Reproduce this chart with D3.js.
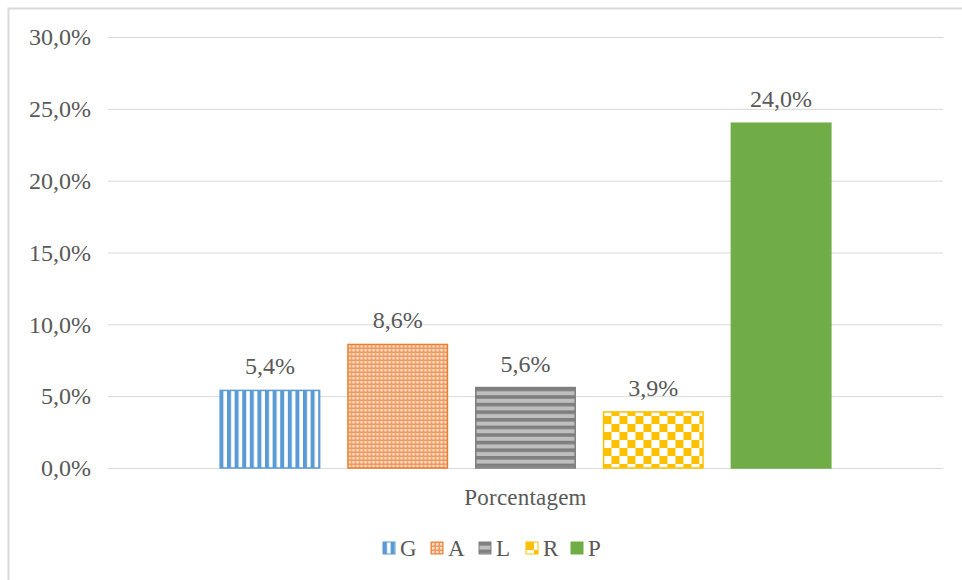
<!DOCTYPE html>
<html>
<head>
<meta charset="utf-8">
<script src="https://cdn.jsdelivr.net/npm/d3@7"></script>
<style>
  body { margin: 0; background: #fff; }
  svg text { font-family: "Liberation Serif", "Times New Roman", serif; fill: #595959; }
</style>
</head>
<body>
<div id="chart"></div>
<script>
// data
const CATEGORY = ["Porcentagem"];
const SERIES = ["G", "A", "L", "R", "P"];
const VALUES = [0.054, 0.086, 0.056, 0.039, 0.240];
const COLORS = ["#5B9BD5", "#ED7D31", "#7F7F7F", "#FFC000", "#70AD47"];
const Y_TICKS = [0, 0.05, 0.10, 0.15, 0.20, 0.25, 0.30];

// layout
const W = 962, H = 580;
const PLOT = {left: 108, right: 943, top: 37, bottom: 468};
const FONT = 23;

const locale = d3.formatLocale({decimal: ",", thousands: ".", grouping: [3], currency: ["", ""]});
const pct = locale.format(".1%");

const svg = d3.select("#chart").append("svg")
    .attr("width", W)
    .attr("height", H);

// fill patterns (Excel style) ------------------------------------------
const defs = svg.append("defs");

// G: wide vertical stripes
const pG = defs.append("pattern").attr("id", "pat-G")
    .attr("patternUnits", "userSpaceOnUse").attr("width", 7.6).attr("height", 8);
pG.append("rect").attr("width", 7.6).attr("height", 8).attr("fill", "#fff");
pG.append("rect").attr("width", 4).attr("height", 8).attr("fill", COLORS[0]);

// A: small grid with white dots
const pA = defs.append("pattern").attr("id", "pat-A")
    .attr("patternUnits", "userSpaceOnUse").attr("width", 4).attr("height", 4);
pA.append("rect").attr("width", 4).attr("height", 4).attr("fill", "#F19A5E");
pA.append("rect").attr("x", 1).attr("y", 1).attr("width", 2.4).attr("height", 2.4).attr("fill", "#fde4d2");

// L: horizontal stripes
const pL = defs.append("pattern").attr("id", "pat-L")
    .attr("patternUnits", "userSpaceOnUse").attr("width", 8).attr("height", 7.6);
pL.append("rect").attr("width", 8).attr("height", 7.6).attr("fill", COLORS[2]);
pL.append("rect").attr("y", 3.6).attr("width", 8).attr("height", 4).attr("fill", "#BFBFBF");

// R: large checkerboard
const pR = defs.append("pattern").attr("id", "pat-R")
    .attr("patternUnits", "userSpaceOnUse").attr("width", 16).attr("height", 16);
pR.append("rect").attr("width", 16).attr("height", 16).attr("fill", "#fff");
pR.append("rect").attr("width", 8).attr("height", 8).attr("fill", COLORS[3]);
pR.append("rect").attr("x", 8).attr("y", 8).attr("width", 8).attr("height", 8).attr("fill", COLORS[3]);

const FILLS = ["url(#pat-G)", "url(#pat-A)", "url(#pat-L)", "url(#pat-R)", COLORS[4]];

// chart frame
svg.append("rect")
    .attr("x", 8.5).attr("y", 8.5)
    .attr("width", 1000).attr("height", 1000)
    .attr("fill", "none")
    .attr("stroke", "#d9d9d9")
    .attr("stroke-width", 2);

// scales ----------------------------------------------------------------
const x0 = d3.scaleBand()
    .domain(CATEGORY)
    .range([PLOT.left, PLOT.right])
    .paddingInner(0)
    .paddingOuter(0.182);

const x1 = d3.scaleBand()
    .domain(SERIES)
    .range([0, x0.bandwidth()])
    .paddingInner(0.21)
    .paddingOuter(0);

const y = d3.scaleLinear()
    .domain([0, 0.30])
    .range([PLOT.bottom, PLOT.top]);

// gridlines + y axis labels
const yAxis = svg.append("g")
    .attr("transform", `translate(${PLOT.left},0)`)
    .call(d3.axisLeft(y).tickValues(Y_TICKS).tickFormat(pct)
        .tickSize(-(PLOT.right - PLOT.left)).tickPadding(17));
yAxis.select(".domain").remove();
yAxis.selectAll(".tick line").attr("stroke", "#d9d9d9").attr("stroke-width", 1);
yAxis.selectAll(".tick text")
    .attr("font-size", 24)
    .style("font-family", '"Liberation Serif", serif')
    .attr("fill", "#595959");

// bars
const groups = svg.selectAll(".cat")
    .data(CATEGORY)
    .enter().append("g")
    .attr("class", "cat")
    .attr("transform", d => `translate(${x0(d)},0)`);

const barData = SERIES.map((s, i) => ({name: s, value: VALUES[i], color: COLORS[i], fill: FILLS[i]}));

groups.selectAll(".bar")
    .data(barData)
    .enter().append("rect")
    .attr("class", "bar")
    .attr("x", d => x1(d.name) + 0.75)
    .attr("width", x1.bandwidth() - 1.5)
    .attr("y", d => y(d.value))
    .attr("height", d => y(0) - y(d.value))
    .attr("fill", d => d.fill)
    .attr("stroke", d => d.color)
    .attr("stroke-width", 1.5);

// value labels
groups.selectAll(".label")
    .data(barData)
    .enter().append("text")
    .attr("class", "label")
    .attr("x", d => x1(d.name) + x1.bandwidth() / 2)
    .attr("y", d => y(d.value) - 16)
    .attr("text-anchor", "middle")
    .attr("font-size", 24)
    .text(d => pct(d.value));

// category label
svg.append("text")
    .attr("x", x0(CATEGORY[0]) + x0.bandwidth() / 2)
    .attr("y", 505)
    .attr("text-anchor", "middle")
    .attr("font-size", FONT)
    .attr("letter-spacing", 0.2)
    .text(CATEGORY[0]);

// legend
const LEGEND_X = [383, 431, 479, 526, 571];
const legend = svg.append("g").attr("transform", "translate(0,542)");
const items = legend.selectAll(".item")
    .data(barData)
    .enter().append("g")
    .attr("class", "item")
    .attr("transform", (d, i) => `translate(${LEGEND_X[i]},0)`);
items.append("rect")
    .attr("width", 12).attr("height", 12)
    .attr("fill", d => d.fill)
    .attr("stroke", d => d.color)
    .attr("stroke-width", 1);
items.append("text")
    .attr("x", 17)
    .attr("y", 14)
    .attr("font-size", FONT)
    .text(d => d.name);
</script>
</body>
</html>
